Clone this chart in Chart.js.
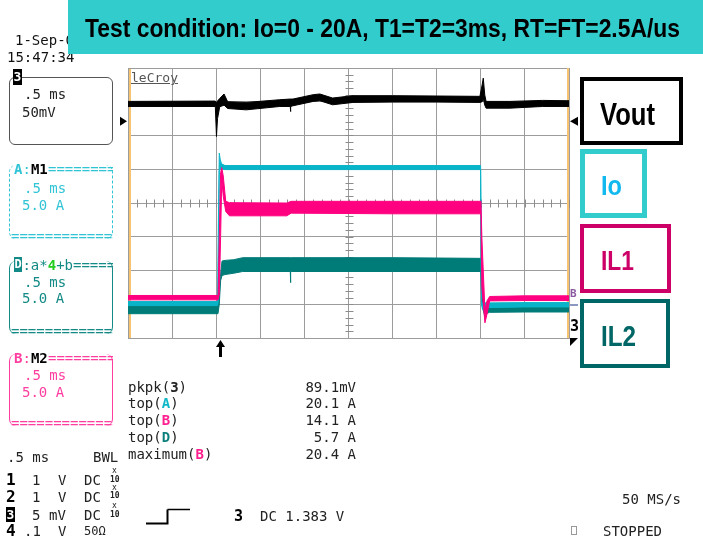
<!DOCTYPE html>
<html><head><meta charset="utf-8">
<script src="https://cdn.jsdelivr.net/npm/chart.js@4/dist/chart.umd.min.js"></script>
<style>
html,body{margin:0;padding:0;background:#fff;}
#stage{position:relative;width:703px;height:537px;overflow:hidden;background:#fff;}
#c{position:absolute;left:0;top:0;}
.m{position:absolute;font-family:"DejaVu Sans Mono",monospace;font-size:14px;line-height:16px;white-space:pre;color:#111;}
.b{font-weight:bold;}
.clip{position:absolute;overflow:hidden;white-space:pre;font-family:"DejaVu Sans Mono",monospace;font-size:14px;line-height:16px;}
.box{position:absolute;box-sizing:border-box;}
.big{position:absolute;font-family:"Liberation Sans",Arial,sans-serif;font-weight:bold;white-space:pre;display:inline-block;transform-origin:0 50%;}
</style></head>
<body><div id="stage"><canvas id="c" width="703" height="537"></canvas></div>
<script>
// ---- data (time in ms, 0.5 ms/div; vertical position in screen divisions 0..8) ----
const VOUT_T  = [0, 0.99, 1.003, 1.015, 1.04, 1.089, 1.13, 1.34, 1.72, 1.84, 1.842, 1.846, 1.87, 2.10, 2.175, 2.32, 2.55, 3.00, 3.50, 3.99, 4.015, 4.028, 4.045, 4.06, 4.33, 4.70, 5.00];
const VOUT_HI = [7.01, 7.02, 6.98, 7.02, 7.10, 7.23, 7.00, 6.98, 7.06, 7.08, 7.08, 7.08, 7.08, 7.21, 7.23, 7.11, 7.18, 7.18, 7.17, 7.16, 7.50, 7.70, 7.20, 7.01, 7.01, 7.04, 7.03];
const VOUT_LO = [6.86, 6.86, 5.97, 6.50, 6.85, 6.90, 6.80, 6.76, 6.86, 6.86, 6.71, 6.86, 6.88, 7.01, 7.03, 6.91, 6.98, 6.99, 6.99, 6.98, 7.00, 7.10, 6.90, 6.81, 6.81, 6.86, 6.86];

const IO_T  = [0, 1.015, 1.025, 1.035, 1.045, 1.06, 1.10, 2.0, 3.0, 3.998, 4.008, 4.02, 4.06, 4.5, 5.0];
const IO_HI = [1.08, 1.08, 3.50, 5.48, 5.30, 5.16, 5.11, 5.11, 5.11, 5.11, 1.06, 1.04, 1.04, 1.05, 1.05];
const IO_LO = [0.96, 0.96, 1.10, 4.95, 5.00, 5.02, 4.99, 4.99, 4.99, 4.99, 1.00, 0.84, 0.90, 0.92, 0.92];

const IL1_T  = [0, 1.021, 1.035, 1.05, 1.063, 1.08, 1.108, 1.15, 1.80, 1.85, 3.0, 4.002, 4.012, 4.047, 4.07, 4.10, 4.5, 5.0];
const IL1_HI = [1.26, 1.26, 3.00, 4.90, 5.05, 4.80, 4.05, 4.01, 4.00, 4.05, 4.05, 4.05, 3.00, 0.80, 1.10, 1.23, 1.25, 1.25];
const IL1_LO = [1.13, 1.13, 1.30, 3.00, 4.70, 4.20, 3.75, 3.62, 3.62, 3.70, 3.68, 3.68, 1.50, 0.45, 0.70, 1.10, 1.11, 1.11];

const IL2_T  = [0, 1.02, 1.035, 1.05, 1.066, 1.10, 1.20, 1.30, 1.84, 1.842, 1.846, 1.85, 3.0, 4.0, 4.012, 4.045, 4.06, 4.10, 4.5, 5.0];
const IL2_HI = [1.05, 1.05, 1.50, 1.90, 2.28, 2.30, 2.32, 2.38, 2.38, 2.38, 2.38, 2.38, 2.38, 2.36, 1.50, 0.90, 0.95, 1.00, 1.02, 1.02];
const IL2_LO = [0.72, 0.72, 1.00, 1.70, 1.85, 1.88, 1.92, 1.97, 1.97, 1.64, 1.97, 1.97, 1.97, 1.97, 1.00, 0.64, 0.72, 0.76, 0.77, 0.77];

const TRIG_T = 1.04;
const VOUT_REF = 6.42;

const MEAS_NAMES  = ['pkpk(<b>3</b>)', 'top(<b style="color:#10b8c8">A</b>)', 'top(<b style="color:#ff1f8f">B</b>)', 'top(<b style="color:#0a7f7c">D</b>)', 'maximum(<b style="color:#ff1f8f">B</b>)'];
const MEAS_VALUES = ['89.1mV', '20.1 A', '14.1 A', '5.7 A', '20.4 A'];

const C_BLACK = '#000000', C_PINK = '#ff0080', C_CYAN = '#0ab4c8', C_TEAL = '#007c78';

function pts(t, v){ return t.map((x,i)=>({x:x, y:v[i]})); }
function ds(label, t, v, color, fill){
  return {label, data: pts(t,v), borderColor: color, backgroundColor: color, borderWidth: 1,
    pointRadius: 0, tension: 0, fill: fill};
}

const stage = document.getElementById('stage');

const decor = {
  id: 'decor',
  beforeDatasetsDraw(chart){
    const ctx = chart.ctx, xs = chart.scales.x, ys = chart.scales.y, a = chart.chartArea;
    ctx.save();
    ctx.strokeStyle = '#8c8c8c'; ctx.lineWidth = 1;
    const cy = Math.round(ys.getPixelForValue(4)) + 0.5;
    for (let v = 0.1; v < 5; v += 0.1) {
      const px = Math.round(xs.getPixelForValue(v)) + 0.5;
      ctx.beginPath(); ctx.moveTo(px, cy - 4); ctx.lineTo(px, cy + 4); ctx.stroke();
    }
    const cx = Math.round(xs.getPixelForValue(2.5)) + 0.5;
    for (let v = 0.2; v < 8; v += 0.2) {
      const py = Math.round(ys.getPixelForValue(v)) + 0.5;
      ctx.beginPath(); ctx.moveTo(cx - 4, py); ctx.lineTo(cx + 4, py); ctx.stroke();
    }
    // orange side borders
    ctx.strokeStyle = '#f6c470'; ctx.lineWidth = 2;
    ctx.beginPath(); ctx.moveTo(a.left + 2, a.top + 1); ctx.lineTo(a.left + 2, a.bottom); ctx.stroke();
    ctx.beginPath(); ctx.moveTo(a.right - 1, a.top); ctx.lineTo(a.right - 1, a.bottom); ctx.stroke();
    ctx.restore();
  },
  afterDraw(chart){
    const ctx = chart.ctx, xs = chart.scales.x, ys = chart.scales.y, a = chart.chartArea;
    ctx.save();
    ctx.fillStyle = '#000';
    const ry = ys.getPixelForValue(VOUT_REF);
    ctx.beginPath(); ctx.moveTo(a.left - 8, ry - 4.5); ctx.lineTo(a.left - 1, ry); ctx.lineTo(a.left - 8, ry + 4.5); ctx.fill();
    ctx.beginPath(); ctx.moveTo(a.right + 9, ry - 4.5); ctx.lineTo(a.right + 1, ry); ctx.lineTo(a.right + 9, ry + 4.5); ctx.fill();
    // trigger arrow
    const tx = Math.round(xs.getPixelForValue(TRIG_T));
    ctx.fillRect(tx - 1, a.bottom + 7, 3, 12);
    ctx.beginPath(); ctx.moveTo(tx + 0.5, a.bottom + 2); ctx.lineTo(tx + 5, a.bottom + 9); ctx.lineTo(tx - 4, a.bottom + 9); ctx.fill();
    // small marker under "3" on the right
    ctx.beginPath(); ctx.moveTo(a.right + 1, a.bottom); ctx.lineTo(a.right + 9, a.bottom); ctx.lineTo(a.right + 1, a.bottom + 8); ctx.fill();
    // B marker underline
    ctx.fillStyle = '#6677aa';
    ctx.fillRect(a.right + 1, ys.getPixelForValue(1.0), 8, 1.5);
    // trigger slope symbol
    ctx.strokeStyle = '#000'; ctx.lineWidth = 2;
    ctx.beginPath(); ctx.moveTo(146, 523.5); ctx.lineTo(167.5, 523.5); ctx.lineTo(167.5, 509.5); ctx.stroke();
    ctx.lineWidth = 1.5;
    ctx.beginPath(); ctx.moveTo(167.5, 509.5); ctx.lineTo(190, 509.5); ctx.stroke();
    ctx.restore();
  }
};

new Chart(document.getElementById('c'), {
  type: 'line',
  data: { datasets: [
    ds('Vout', VOUT_T, VOUT_HI, C_BLACK, 1),
    ds('Vout low', VOUT_T, VOUT_LO, C_BLACK, false),
    ds('IL1', IL1_T, IL1_HI, C_PINK, 3),
    ds('IL1 low', IL1_T, IL1_LO, C_PINK, false),
    ds('Io', IO_T, IO_HI, C_CYAN, 5),
    ds('Io low', IO_T, IO_LO, C_CYAN, false),
    ds('IL2', IL2_T, IL2_HI, C_TEAL, 7),
    ds('IL2 low', IL2_T, IL2_LO, C_TEAL, false)
  ]},
  options: {
    responsive: false, animation: false, devicePixelRatio: 1,
    layout: { padding: { left: 128, right: 134, top: 68, bottom: 199 } },
    plugins: { legend: { display: false }, tooltip: { enabled: false } },
    scales: {
      x: { type: 'linear', min: 0, max: 5,
           ticks: { display: false, stepSize: 0.5 },
           grid: { color: '#9c9c9c', drawTicks: false, lineWidth: 1 },
           border: { display: true, color: '#9c9c9c' } },
      y: { type: 'linear', min: 0, max: 8,
           ticks: { display: false, stepSize: 1 },
           grid: { color: '#9c9c9c', drawTicks: false, lineWidth: 1 },
           border: { display: true, color: '#9c9c9c' } }
    }
  },
  plugins: [decor]
});

// ---- text helpers ----
function T(x, yc, html, color, extra){
  const d = document.createElement('div'); d.className = 'm';
  d.style.left = x + 'px'; d.style.top = (yc - 8) + 'px'; d.innerHTML = html;
  if (color) d.style.color = color;
  if (extra) Object.assign(d.style, extra);
  stage.appendChild(d); return d;
}
function TR(rightX, yc, html, color){
  const d = T(0, yc, html, color); d.style.left = ''; d.style.right = (703 - rightX) + 'px'; return d;
}
function R(x, y, w, h, st){
  const d = document.createElement('div'); d.className = 'box';
  Object.assign(d.style, {left: x + 'px', top: y + 'px', width: w + 'px', height: h + 'px'}, st || {});
  stage.appendChild(d); return d;
}
function EQ(x, yc, right, color){
  const d = document.createElement('div'); d.className = 'clip';
  Object.assign(d.style, {left: x + 'px', top: (yc - 8) + 'px', width: (right - x) + 'px', height: '16px', color: color});
  d.textContent = '===================='; stage.appendChild(d); return d;
}
function BIG(x, baseline, fs, text, color, targetW){
  const d = document.createElement('div'); d.className = 'big';
  Object.assign(d.style, {left: x + 'px', top: (baseline - 0.8465 * fs) + 'px', fontSize: fs + 'px', lineHeight: fs + 'px', color: color});
  d.textContent = text; stage.appendChild(d);
  const w = d.getBoundingClientRect().width;
  d.style.transform = 'scaleX(' + (targetW / w) + ')';
  return d;
}
function INV(x, y, w, h, ch, bg, fg, fs){
  const d = R(x, y, w, h, {background: bg, color: fg, fontFamily: '"DejaVu Sans Mono",monospace', fontWeight: 'bold',
    fontSize: (fs || 13) + 'px', lineHeight: h + 'px', textAlign: 'center'});
  d.textContent = ch; return d;
}

// date / time
T(15, 40, '1-Sep-04');
T(7, 57, '15:47:34');

// title banner
R(68, 0, 635, 54, {background: '#33cccc'});
BIG(85, 36.7, 26, 'Test condition: Io=0 - 20A, T1=T2=3ms, RT=FT=2.5A/us', '#000', 595);

// channel 3 box
R(9, 77, 104, 68, {border: '1px solid #555', borderRadius: '6px'});
INV(13, 69, 9, 16, '3', '#000', '#fff', 13);
T(24, 94, '.5 ms', '#222');
T(22, 112, '50mV', '#222');

// A box
const CA = '#30c4d6';
R(9, 165, 104, 74, {borderLeft: '1px dashed ' + CA, borderRight: '1px dashed ' + CA, borderRadius: '7px'});
T(14, 169, '<b>A</b>:<b style="color:#000">M1</b>', CA);
EQ(48, 169, 113, CA);
T(24, 188, '.5 ms', CA);
T(22, 205, '5.0 A', CA);
EQ(11, 235.5, 113, CA);

// D box
const CD = '#138a86';
R(9, 261, 104, 73, {borderLeft: '1px solid ' + CD, borderRight: '1px solid ' + CD, borderRadius: '7px'});
INV(14, 257, 8, 15, 'D', CD, '#fff', 12);
T(22.4, 265, ':a*<b style="color:#22cc22">4</b>+b', CD);
EQ(73, 265, 113, CD);
T(24, 282, '.5 ms', CD);
T(22, 298, '5.0 A', CD);
EQ(11, 331, 113, CD);

// B box
const CB = '#ff3d9e';
R(9, 354, 104, 72, {borderLeft: '1px solid ' + CB, borderRight: '1px solid ' + CB, borderRadius: '7px'});
T(14, 358, '<b>B</b>:<b style="color:#000">M2</b>', CB);
EQ(48, 358, 113, CB);
T(24, 375, '.5 ms', CB);
T(22, 392, '5.0 A', CB);
EQ(11, 422.5, 113, CB);

// LeCroy logo
T(131, 78, 'leCroy', '#555', {fontSize: '13px', textDecoration: 'underline'});

// right-side markers
T(570, 294, '<b>B</b>', '#8a5aa0', {fontSize: '11px'});
T(570, 326, '<b>3</b>', '#000', {fontSize: '15px'});

// measurements
const MEAS_Y = [386.7, 403.3, 420, 436.7, 454];
MEAS_NAMES.forEach((n, i) => { T(128, MEAS_Y[i], n, '#222'); TR(356, MEAS_Y[i], MEAS_VALUES[i], '#222'); });

// bottom-left channel settings
T(7, 456.7, '.5 ms', '#222');
T(93, 456.7, 'BWL', '#222');
const ROW_Y = [480, 496.7, 515, 530.7];
T(6, ROW_Y[0], '1', '#000', {fontWeight: 'bold', fontSize: '16px'});
T(6, ROW_Y[1], '2', '#000', {fontWeight: 'bold', fontSize: '16px'});
INV(6, 507, 9, 15, '3', '#000', '#fff', 13);
T(6, ROW_Y[3], '4', '#000', {fontWeight: 'bold', fontSize: '16px'});
T(32, ROW_Y[0], '1', '#222'); T(58, ROW_Y[0], 'V', '#222'); T(84, ROW_Y[0], 'DC', '#222');
T(32, ROW_Y[1], '1', '#222'); T(58, ROW_Y[1], 'V', '#222'); T(84, ROW_Y[1], 'DC', '#222');
T(32, ROW_Y[2], '5', '#222'); T(49, ROW_Y[2], 'mV', '#222'); T(84, ROW_Y[2], 'DC', '#222');
T(24, ROW_Y[3], '.1', '#222'); T(58, ROW_Y[3], 'V', '#222'); T(84, ROW_Y[3], '50Ω', '#222', {fontSize: '12px'});
[0, 1, 2].forEach(i => {
  T(112, ROW_Y[i] - 5, 'x', '#222', {fontSize: '8px', lineHeight: '8px'});
  T(110, ROW_Y[i] + 3.5, '10', '#222', {fontSize: '8px', lineHeight: '8px', fontWeight: 'bold'});
});
T(234, 516, '3', '#000', {fontWeight: 'bold', fontSize: '15px'});
T(260, 516, 'DC 1.383 V', '#222');

// bottom-right
T(622, 499.3, '50 MS/s', '#222');
R(571, 526, 6, 9, {border: '1px solid #999'});
T(603, 530.7, 'STOPPED', '#222');

// legend boxes
R(580, 77, 103, 68, {border: '4px solid #000'});
BIG(600, 125, 32, 'Vout', '#000', 55);
R(580, 149, 67, 69, {border: '5px solid #33cccc'});
BIG(601, 196, 27, 'Io', '#12b9ee', 21);
R(580, 224, 91, 69, {border: '4px solid #cc0066'});
BIG(601, 271, 28, 'IL1', '#cc0066', 33);
R(580, 299, 90, 69, {border: '4px solid #006666'});
BIG(601, 346, 30, 'IL2', '#006666', 35);
</script>
</body></html>
